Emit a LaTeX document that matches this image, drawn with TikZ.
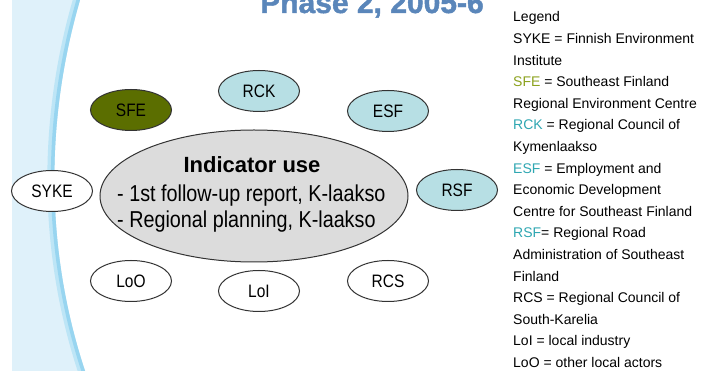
\documentclass[tikz,border=0pt]{standalone}
\usepackage{fontspec}
\setmainfont{Liberation Sans}
\newfontfamily\narrowfont[FakeStretch=0.86]{Liberation Sans}
\newfontfamily\titlefont[FakeBold=1.5]{Liberation Sans Bold}
\usetikzlibrary{shapes.geometric}
\definecolor{titleblue}{HTML}{5A86BA}
\definecolor{olivenode}{HTML}{5B6E00}
\definecolor{bluenode}{HTML}{B7DFE4}
\definecolor{graynode}{HTML}{DCDCDC}
\definecolor{bandlight}{HTML}{DFF1FA}
\definecolor{bandmid}{HTML}{BDE5F6}
\definecolor{bandedge}{HTML}{98D5F0}
\definecolor{legolive}{HTML}{8CA21E}
\definecolor{legteal}{HTML}{2FA7B2}
\definecolor{edgegray}{HTML}{333333}
\tikzset{
  actor/.style={ellipse, draw=edgegray, line width=1pt, inner sep=0pt,
    minimum width=81pt, minimum height=41pt,
    font=\narrowfont\fontsize{18}{18}\selectfont},
  whiteactor/.style={actor, fill=white},
  blueactor/.style={actor, fill=bluenode},
  oliveactor/.style={actor, fill=olivenode},
  bigell/.style={ellipse, draw=edgegray, line width=1pt, fill=graynode, inner sep=0pt,
    minimum width=308pt, minimum height=132pt},
  legline/.style={anchor=base west, inner sep=0pt, font=\fontsize{14}{14}\selectfont},
  bodyline/.style={anchor=base west, inner sep=0pt, font=\narrowfont\fontsize{23}{23}\selectfont}
}
\begin{document}
\begin{tikzpicture}[x=1pt,y=-1pt]
\useasboundingbox (0,0) rectangle (705,371);
\clip (0,0) rectangle (705,371);
\fill[white] (0,0) rectangle (705,371);
% left band
\fill[bandlight] (12,0) -- (80,0) .. controls (45,120) and (45,250) .. (85,371) -- (12,371) -- cycle;
\begin{scope}
  \clip (12,0) -- (80,0) .. controls (45,120) and (45,250) .. (85,371) -- (12,371) -- cycle;
  \draw[bandmid, line width=14pt] (80,0) .. controls (45,120) and (45,250) .. (85,371);
  \draw[bandedge, line width=7pt] (80,0) .. controls (45,120) and (45,250) .. (85,371);
\end{scope}
% title
\node[anchor=base, inner sep=0pt, text=titleblue, font=\titlefont\fontsize{30}{30}\selectfont] (title) at (372,13) {Phase 2, 2005-6};
% central ellipse
\node[bigell] (ind) at (254,196) {};
\node[anchor=base, inner sep=0pt, font=\fontsize{22}{22}\selectfont\bfseries] (indt) at (252,173) {Indicator use};
\node[bodyline] (l1) at (117,202) {- 1st follow-up report, K-laakso};
\node[bodyline] (l2) at (117,228) {- Regional planning, K-laakso};
% actors
\node[oliveactor] (sfe) at (131,110) {SFE};
\node[blueactor] (rck) at (259,91) {RCK};
\node[blueactor] (esf) at (388,111) {ESF};
\node[whiteactor] (syke) at (52,191) {SYKE};
\node[blueactor] (rsf) at (457,190) {RSF};
\node[whiteactor] (loo) at (131,281) {LoO};
\node[whiteactor] (loi) at (259,291) {LoI};
\node[whiteactor] (rcs) at (388,281) {RCS};
% legend
\foreach \t [count=\i from 0] in {
  {Legend},
  {SYKE = Finnish Environment},
  {Institute},
  {\textcolor{legolive}{SFE} = Southeast Finland},
  {Regional  Environment Centre},
  {\textcolor{legteal}{RCK} = Regional Council of},
  {Kymenlaakso},
  {\textcolor{legteal}{ESF} = Employment and},
  {Economic Development},
  {Centre for Southeast Finland},
  {\textcolor{legteal}{RSF}= Regional Road},
  {Administration of Southeast},
  {Finland},
  {RCS = Regional Council of},
  {South-Karelia},
  {LoI = local industry},
  {LoO = other local actors}}
{
  \node[legline] (leg\i) at (513,{22+21.6*\i}) {\t};
}
\end{tikzpicture}
\end{document}
